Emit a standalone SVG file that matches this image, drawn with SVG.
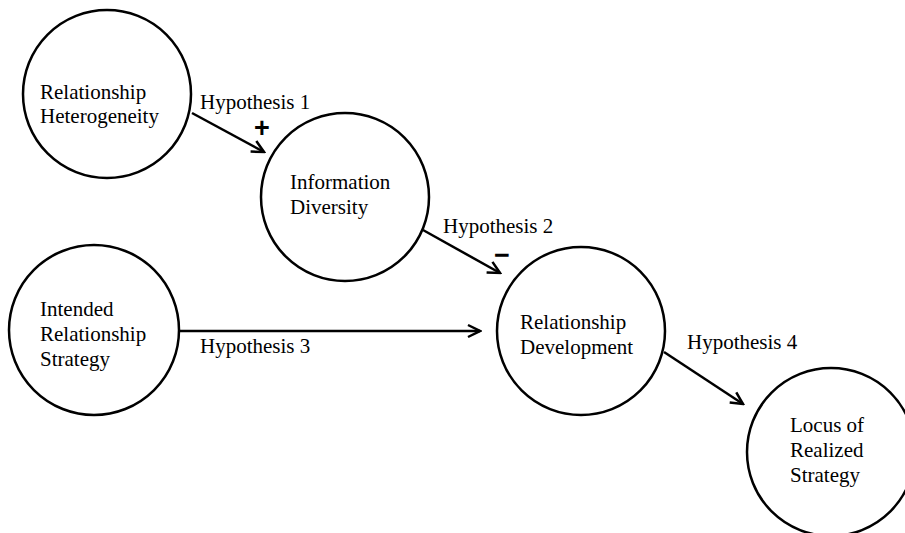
<svg xmlns="http://www.w3.org/2000/svg" width="905" height="533" viewBox="0 0 905 533">
<style>
.node{fill:#fff;stroke:#000;stroke-width:2.5}
.t{font-family:"Liberation Serif","Times New Roman","DejaVu Serif",serif;font-size:21px;fill:#000}
.edge{stroke:#000;stroke-width:2.5;fill:none;marker-end:url(#arr)}
.sign{font-family:"Liberation Sans",Arial,sans-serif;font-size:27px;font-weight:bold;fill:#000;text-anchor:middle}
</style>
<defs>
<marker id="arr" viewBox="0 0 16 16" refX="14" refY="8" markerWidth="16" markerHeight="16" markerUnits="userSpaceOnUse" orient="auto">
<path d="M2,2 L14,8 L2,14" fill="none" stroke="#000" stroke-width="2.5"/>
</marker>
</defs>
<rect width="905" height="533" fill="#fff"/>
<g id="n1"><circle class="node" cx="107" cy="94" r="84"/><text class="t" x="40" y="99">Relationship</text><text class="t" x="40" y="123">Heterogeneity</text></g>
<g id="n2"><circle class="node" cx="345" cy="197" r="84"/><text class="t" x="290" y="189">Information</text><text class="t" x="290" y="214">Diversity</text></g>
<g id="n3"><circle class="node" cx="94" cy="330" r="85"/><text class="t" x="40" y="316">Intended</text><text class="t" x="40" y="341">Relationship</text><text class="t" x="40" y="366">Strategy</text></g>
<g id="n4"><circle class="node" cx="581" cy="331" r="84"/><text class="t" x="520" y="329">Relationship</text><text class="t" x="520" y="354">Development</text></g>
<g id="n5"><circle class="node" cx="831" cy="452" r="84"/><text class="t" x="790" y="432">Locus of</text><text class="t" x="790" y="457">Realized</text><text class="t" x="790" y="482">Strategy</text></g>
<g id="edges">
<line class="edge" x1="192" y1="113" x2="264" y2="152"/>
<line class="edge" x1="423" y1="230" x2="500" y2="273"/>
<line class="edge" x1="179" y1="331" x2="480" y2="331"/>
<line class="edge" x1="664" y1="352" x2="743" y2="404"/>
<text class="t" x="200" y="109">Hypothesis 1</text>
<text class="t" x="443" y="233">Hypothesis 2</text>
<text class="t" x="200" y="353">Hypothesis 3</text>
<text class="t" x="687" y="349">Hypothesis 4</text>
<text class="sign" x="262" y="137">+</text>
<text class="sign" x="502" y="264">−</text>
</g>
</svg>
